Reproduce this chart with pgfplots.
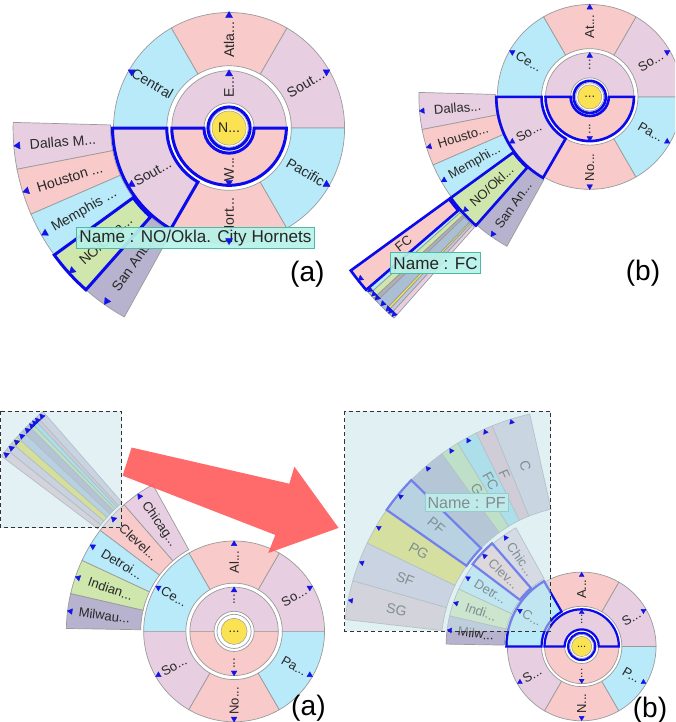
\documentclass[border=0pt]{standalone}
\usepackage{pgfplots}
\pgfplotsset{compat=1.18}
\usepackage{fontspec}
\setmainfont{Liberation Sans}
\usetikzlibrary{calc}

\definecolor{cPink}{RGB}{248,202,202}
\definecolor{cMauve}{RGB}{231,207,225}
\definecolor{cCyan}{RGB}{184,234,250}
\definecolor{cGreen}{RGB}{207,231,172}
\definecolor{cGrayP}{RGB}{183,179,207}
\definecolor{cYellow}{RGB}{250,226,82}
\definecolor{cEdge}{RGB}{155,155,155}
\definecolor{cHL}{RGB}{10,10,235}
\definecolor{cTri}{RGB}{20,20,230}
\definecolor{cTipF}{RGB}{182,242,232}
\definecolor{cTipD}{RGB}{80,185,165}
\definecolor{cTxt}{RGB}{40,40,40}
\definecolor{cArrow}{RGB}{255,90,90}
\definecolor{cBox}{RGB}{200,228,234}
\definecolor{pC}{RGB}{205,195,218}
\definecolor{pF}{RGB}{222,178,196}
\definecolor{pFC}{RGB}{140,218,236}
\definecolor{pG}{RGB}{180,220,160}
\definecolor{pSt}{RGB}{160,164,192}
\definecolor{pPF}{RGB}{168,190,218}
\definecolor{pPG}{RGB}{228,218,72}
\definecolor{pSF}{RGB}{205,192,215}
\definecolor{pSG}{RGB}{226,192,202}
\definecolor{qGray}{RGB}{175,175,182}
\definecolor{qSteel}{RGB}{170,190,212}
\definecolor{qBG}{RGB}{188,202,222}

\tikzset{wd/.style={draw=cEdge,line width=0.7pt}}

% wedge: style, center, r1, r2, a1, a2
\newcommand{\wdg}[6]{%
  \path[#1] ($(#2)+(#5:#3pt)$) arc[start angle=#5,end angle=#6,radius=#3pt]
    -- ($(#2)+(#6:#4pt)$) arc[start angle=#6,end angle=#5,radius=#4pt] -- cycle;}
% label: center, r, angle, text, size
\newcommand{\wlab}[5]{%
  \node[text=cTxt,font=\fontsize{#5}{#5}\selectfont,inner sep=0pt,
    rotate={ifthenelse(and(#3>90.1,#3<270.1),#3-180,#3)}]
    at ($(#1)+(#3:#2pt)$) {#4};}

\begin{document}
\begin{tikzpicture}
\begin{axis}[hide axis, scale only axis, width=672pt, height=722pt,
  xmin=0, xmax=672, ymin=0, ymax=722, y dir=reverse, clip=true]

\coordinate (P1) at (axis cs:228,131);
\coordinate (P2) at (axis cs:587,100);
\coordinate (P3) at (axis cs:233,632);
\coordinate (P4) at (axis cs:579,647);

%================ Panel 1 =================
\wdg{fill=cMauve,wd}{P1}{25}{57}{0}{180}
\wdg{fill=cPink,wd}{P1}{25}{57}{180}{360}
\wdg{fill=cMauve,wd}{P1}{62}{115}{0}{60}
\wdg{fill=cPink,wd}{P1}{62}{115}{60}{120}
\wdg{fill=cCyan,wd}{P1}{62}{115}{120}{180}
\wdg{fill=cMauve,wd}{P1}{62}{115}{180}{240}
\wdg{fill=cPink,wd}{P1}{62}{115}{240}{300}
\wdg{fill=cCyan,wd}{P1}{62}{115}{300}{360}
\wdg{fill=cMauve,wd}{P1}{118}{215}{178.5}{191}
\wdg{fill=cPink,wd}{P1}{118}{215}{191}{203.5}
\wdg{fill=cCyan,wd}{P1}{118}{215}{203.5}{216}
\wdg{fill=cGreen,wd}{P1}{118}{215}{216}{228.5}
\wdg{fill=cGrayP,wd}{P1}{118}{215}{228.5}{241}
\path[fill=white,draw=cEdge,line width=0.7pt] (P1) circle[radius=19pt];
\path[fill=cYellow,draw=cEdge,line width=0.5pt] (P1) circle[radius=17pt];
\wlab{P1}{0}{0}{N...}{14}
\wlab{P1}{41}{90}{E...}{14}
\wlab{P1}{41}{270}{W...}{14}
\wlab{P1}{88}{30}{Sout...}{14}
\wlab{P1}{88}{90}{Atla...}{14}
\wlab{P1}{88}{150}{Central}{14}
\wlab{P1}{88}{210}{Sout...}{14}
\wlab{P1}{88}{270}{Nort...}{14}
\wlab{P1}{88}{330}{Pacific}{14}
\wlab{P1}{166}{184.75}{Dallas M...}{14}
\wlab{P1}{166}{197.25}{Houston ...}{14}
\wlab{P1}{166}{209.75}{Memphis ...}{14}
\wlab{P1}{166}{222.25}{NO/Okla...}{14}
\wlab{P1}{166}{234.75}{San Ant...}{14}
\addplot[scatter, only marks, mark=triangle*, mark size=4pt,
  scatter/use mapped color={draw=cTri,fill=cTri}, point meta=\thisrow{a},
  visualization depends on={\thisrow{a} \as \ang},
  scatter/@pre marker code/.append style={/tikz/rotate=\ang-90}]
  table[x expr={228+\thisrow{r}*cos(\thisrow{a})}, y expr={131-\thisrow{r}*sin(\thisrow{a})}] {
r a
54 90
54 270
112 30
112 90
112 150
112 210
112 270
112 330
211 184.75
211 197.25
211 209.75
211 222.25
211 234.75
};
\draw[cHL,line width=3pt] (P1) circle[radius=21pt];
\wdg{draw=cHL,line width=3pt}{P1}{25}{57}{180}{360}
\wdg{draw=cHL,line width=3pt}{P1}{62}{116}{180}{240}
\wdg{draw=cHL,line width=3pt}{P1}{118}{215}{216}{228.5}
\path[fill=cTipF,draw=cTipD,line width=0.8pt,fill opacity=0.92] (axis cs:76,230) rectangle (axis cs:313,251);
\node[font=\fontsize{17}{17}\selectfont,text=black!85,inner sep=0pt] at (axis cs:194.5,241) {Name : NO/Okla. City Hornets};
\node[font=\fontsize{28}{28}\selectfont,inner sep=0pt] at (axis cs:306,276) {(a)};

%================ Panel 2 =================
\wdg{fill=cMauve,wd}{P2}{19}{44}{0}{180}
\wdg{fill=cPink,wd}{P2}{19}{44}{180}{360}
\wdg{fill=cMauve,wd}{P2}{48}{92}{0}{60}
\wdg{fill=cPink,wd}{P2}{48}{92}{60}{120}
\wdg{fill=cCyan,wd}{P2}{48}{92}{120}{180}
\wdg{fill=cMauve,wd}{P2}{48}{92}{180}{240}
\wdg{fill=cPink,wd}{P2}{48}{92}{240}{300}
\wdg{fill=cCyan,wd}{P2}{48}{92}{300}{360}
\wdg{fill=cMauve,wd}{P2}{94}{170}{178.5}{191}
\wdg{fill=cPink,wd}{P2}{94}{170}{191}{203.5}
\wdg{fill=cCyan,wd}{P2}{94}{170}{203.5}{216}
\wdg{fill=cGreen,wd}{P2}{94}{170}{216}{228.5}
\wdg{fill=cGrayP,wd}{P2}{94}{170}{228.5}{241}
\wdg{fill=cPink,wd}{P2}{173}{294}{216}{220.8}
\wdg{fill=cCyan,wd}{P2}{173}{294}{220.8}{221.8}
\wdg{fill=cGreen,wd}{P2}{173}{294}{221.8}{223}
\wdg{fill=qGray,wd}{P2}{173}{294}{223}{223.8}
\wdg{fill=qSteel,wd}{P2}{173}{294}{223.8}{226.2}
\wdg{fill=cYellow,wd}{P2}{173}{294}{226.2}{226.7}
\wdg{fill=qBG,wd}{P2}{173}{294}{226.7}{227.5}
\wdg{fill=cMauve,wd}{P2}{173}{294}{227.5}{228.5}
\path[fill=white,draw=cEdge,line width=0.7pt] (P2) circle[radius=14pt];
\path[fill=cYellow,draw=cEdge,line width=0.5pt] (P2) circle[radius=12pt];
\wlab{P2}{0}{0}{...}{13}
\wlab{P2}{32}{90}{...}{13}
\wlab{P2}{32}{270}{...}{13}
\wlab{P2}{70}{30}{So...}{13}
\wlab{P2}{70}{90}{At...}{13}
\wlab{P2}{70}{150}{Ce...}{13}
\wlab{P2}{70}{210}{So...}{13}
\wlab{P2}{70}{270}{No...}{13}
\wlab{P2}{70}{330}{Pa...}{13}
\wlab{P2}{132}{184.75}{Dallas...}{13}
\wlab{P2}{132}{197.25}{Housto...}{13}
\wlab{P2}{132}{209.75}{Memphi...}{13}
\wlab{P2}{132}{222.25}{NO/Okl...}{13}
\wlab{P2}{132}{234.75}{San An...}{13}
\wlab{P2}{236}{218.2}{FC}{13}
\addplot[scatter, only marks, mark=triangle*, mark size=3.2pt,
  scatter/use mapped color={draw=cTri,fill=cTri}, point meta=\thisrow{a},
  visualization depends on={\thisrow{a} \as \ang},
  scatter/@pre marker code/.append style={/tikz/rotate=\ang-90}]
  table[x expr={587+\thisrow{r}*cos(\thisrow{a})}, y expr={100-\thisrow{r}*sin(\thisrow{a})}] {
r a
41 90
41 270
89 30
89 90
89 150
89 210
89 270
89 330
167 184.75
167 197.25
167 209.75
167 222.25
167 234.75
291 218.4
291 221.3
291 222.4
291 223.4
291 225
291 226.45
291 227.1
291 228
};
\draw[cHL,line width=2.6pt] (P2) circle[radius=16pt];
\wdg{draw=cHL,line width=2.6pt}{P2}{19}{44}{180}{360}
\wdg{draw=cHL,line width=2.6pt}{P2}{48}{93}{180}{240}
\wdg{draw=cHL,line width=2.6pt}{P2}{94}{171}{216}{228.5}
\wdg{draw=cHL,line width=2.6pt}{P2}{173}{294}{216}{220.8}
\path[fill=cTipF,draw=cTipD,line width=0.8pt,fill opacity=0.92] (axis cs:389,255) rectangle (axis cs:478,276);
\node[font=\fontsize{17}{17}\selectfont,text=black!85,inner sep=0pt] at (axis cs:433.5,266) {Name : FC};
\node[font=\fontsize{28}{28}\selectfont,inner sep=0pt] at (axis cs:640,275) {(b)};

%================ Panel 3 =================
\wdg{fill=cMauve,wd}{P3}{20}{44}{0}{180}
\wdg{fill=cPink,wd}{P3}{20}{44}{180}{360}
\wdg{fill=cMauve,wd}{P3}{48}{90}{0}{60}
\wdg{fill=cPink,wd}{P3}{48}{90}{60}{120}
\wdg{fill=cCyan,wd}{P3}{48}{90}{120}{180}
\wdg{fill=cMauve,wd}{P3}{48}{90}{180}{240}
\wdg{fill=cPink,wd}{P3}{48}{90}{240}{300}
\wdg{fill=cCyan,wd}{P3}{48}{90}{300}{360}
\wdg{fill=cMauve,wd}{P3}{93}{167}{119}{131}
\wdg{fill=cPink,wd}{P3}{93}{167}{131}{143}
\wdg{fill=cCyan,wd}{P3}{93}{167}{143}{155}
\wdg{fill=cGreen,wd}{P3}{93}{167}{155}{167}
\wdg{fill=cGrayP,wd}{P3}{93}{167}{167}{179}
\wdg{fill=pC,wd}{P3}{170}{290}{131}{132.61}
\wdg{fill=pF,wd}{P3}{170}{290}{132.61}{133.32}
\wdg{fill=pFC,wd}{P3}{170}{290}{133.32}{134.18}
\wdg{fill=pG,wd}{P3}{170}{290}{134.18}{134.96}
\wdg{fill=pSt,wd}{P3}{170}{290}{134.96}{136.6}
\wdg{fill=pPF,wd}{P3}{170}{290}{136.6}{138.17}
\wdg{fill=pPG,wd}{P3}{170}{290}{138.17}{139.74}
\wdg{fill=pSF,wd}{P3}{170}{290}{139.74}{141.38}
\wdg{fill=pSG,wd}{P3}{170}{290}{141.38}{143}
\path[fill=white,draw=cEdge,line width=0.7pt] (P3) circle[radius=17pt];
\path[fill=cYellow,draw=cEdge,line width=0.5pt] (P3) circle[radius=13pt];
\wlab{P3}{0}{0}{...}{13}
\wlab{P3}{32}{90}{...}{13}
\wlab{P3}{32}{270}{...}{13}
\wlab{P3}{69}{30}{So...}{13}
\wlab{P3}{69}{90}{Al...}{13}
\wlab{P3}{69}{150}{Ce...}{13}
\wlab{P3}{69}{210}{So...}{13}
\wlab{P3}{69}{270}{No...}{13}
\wlab{P3}{69}{330}{Pa...}{13}
\wlab{P3}{130}{125}{Chicag...}{13}
\wlab{P3}{130}{137}{Clevel...}{13}
\wlab{P3}{130}{149}{Detroi...}{13}
\wlab{P3}{130}{161}{Indian...}{13}
\wlab{P3}{130}{173}{Milwau...}{13}
\addplot[scatter, only marks, mark=triangle*, mark size=3.2pt,
  scatter/use mapped color={draw=cTri,fill=cTri}, point meta=\thisrow{a},
  visualization depends on={\thisrow{a} \as \ang},
  scatter/@pre marker code/.append style={/tikz/rotate=\ang-90}]
  table[x expr={233+\thisrow{r}*cos(\thisrow{a})}, y expr={632-\thisrow{r}*sin(\thisrow{a})}] {
r a
41 90
41 270
87 30
87 90
87 150
87 210
87 270
87 330
164 125
164 137
164 149
164 161
164 173
287 131.8
287 132.97
287 133.75
287 134.57
287 135.78
287 137.39
287 138.96
287 140.56
287 142.19
};
\path[fill=cBox,fill opacity=0.5,draw=black!80,line width=1pt,dash pattern=on 4pt off 3pt] (axis cs:0.5,413) rectangle (axis cs:121,529);
\node[font=\fontsize{28}{28}\selectfont,inner sep=0pt] at (axis cs:307,708) {(a)};

%================ Arrow =================
\path[fill=cArrow,fill opacity=0.9] (axis cs:131,449) -- (axis cs:288,485) -- (axis cs:293,468) -- (axis cs:337,529) -- (axis cs:267,554) -- (axis cs:274,536) -- (axis cs:122,477) -- cycle;

%================ Panel 4 =================
\wdg{fill=cMauve,wd}{P4}{17}{37}{0}{180}
\wdg{fill=cPink,wd}{P4}{17}{37}{180}{360}
\wdg{fill=cMauve,wd}{P4}{40}{74}{0}{60}
\wdg{fill=cPink,wd}{P4}{40}{74}{60}{120}
\wdg{fill=cCyan,wd}{P4}{40}{74}{120}{180}
\wdg{fill=cMauve,wd}{P4}{40}{74}{180}{240}
\wdg{fill=cPink,wd}{P4}{40}{74}{240}{300}
\wdg{fill=cCyan,wd}{P4}{40}{74}{300}{360}
\wdg{fill=cMauve,wd}{P4}{77}{135}{119}{131}
\wdg{fill=cPink,wd}{P4}{77}{135}{131}{143}
\wdg{fill=cCyan,wd}{P4}{77}{135}{143}{155}
\wdg{fill=cGreen,wd}{P4}{77}{135}{155}{167}
\wdg{fill=cGrayP,wd}{P4}{77}{135}{167}{179}
\wdg{fill=pC,wd}{P4}{140}{237}{102.6}{112.1}
\wdg{fill=pF,wd}{P4}{140}{237}{112.1}{116.3}
\wdg{fill=pFC,wd}{P4}{140}{237}{116.3}{121.4}
\wdg{fill=pG,wd}{P4}{140}{237}{121.4}{126}
\wdg{fill=pSt,wd}{P4}{140}{237}{126}{135.7}
\wdg{fill=pPF,wd}{P4}{140}{237}{135.7}{145}
\wdg{fill=pPG,wd}{P4}{140}{237}{145}{154.3}
\wdg{fill=pSF,wd}{P4}{140}{237}{154.3}{164}
\wdg{fill=pSG,wd}{P4}{140}{237}{164}{173.5}
\path[fill=white,draw=cEdge,line width=0.7pt] (P4) circle[radius=12pt];
\path[fill=cYellow,draw=cEdge,line width=0.5pt] (P4) circle[radius=10pt];
\wlab{P4}{0}{0}{...}{11}
\wlab{P4}{27}{90}{...}{12}
\wlab{P4}{27}{270}{...}{12}
\wlab{P4}{57}{30}{S...}{13}
\wlab{P4}{57}{90}{A...}{13}
\wlab{P4}{57}{150}{C...}{13}
\wlab{P4}{57}{210}{S...}{13}
\wlab{P4}{57}{270}{N...}{13}
\wlab{P4}{57}{330}{P...}{13}
\wlab{P4}{106}{125}{Chic...}{13}
\wlab{P4}{106}{137}{Clev...}{13}
\wlab{P4}{106}{149}{Detr...}{13}
\wlab{P4}{106}{161}{Indi...}{13}
\wlab{P4}{106}{173}{Milw...}{13}
\wlab{P4}{188}{107.35}{C}{14}
\wlab{P4}{188}{114.2}{F}{14}
\wlab{P4}{188}{118.85}{FC}{14}
\wlab{P4}{188}{123.7}{G}{14}
\wlab{P4}{188}{140.35}{PF}{14}
\wlab{P4}{188}{149.65}{PG}{14}
\wlab{P4}{188}{159.15}{SF}{14}
\wlab{P4}{188}{168.75}{SG}{14}
\addplot[scatter, only marks, mark=triangle*, mark size=2.8pt,
  scatter/use mapped color={draw=cTri,fill=cTri}, point meta=\thisrow{a},
  visualization depends on={\thisrow{a} \as \ang},
  scatter/@pre marker code/.append style={/tikz/rotate=\ang-90}]
  table[x expr={579+\thisrow{r}*cos(\thisrow{a})}, y expr={647-\thisrow{r}*sin(\thisrow{a})}] {
r a
34 90
34 270
71 30
71 90
71 150
71 210
71 270
71 330
132 125
132 137
132 149
132 161
132 173
234 107.35
234 114.2
234 118.85
234 123.7
234 130.85
234 140.35
234 149.65
234 159.15
234 168.75
};
\draw[cHL,line width=2.2pt] (P4) circle[radius=13.5pt];
\wdg{draw=cHL,line width=2.2pt}{P4}{17}{37}{0}{180}
\wdg{draw=cHL,line width=2.2pt}{P4}{40}{75}{120}{180}
\wdg{draw=cHL,line width=2.2pt}{P4}{77}{136}{131}{143}
\wdg{draw=cHL,line width=2.2pt}{P4}{140}{237}{135.7}{145}
\path[fill=cTipF,draw=cTipD,line width=0.8pt] (axis cs:423,495) rectangle (axis cs:506,513);
\node[font=\fontsize{16}{16}\selectfont,text=black!85,inner sep=0pt] at (axis cs:464.5,504) {Name : PF};
\path[fill=cBox,fill opacity=0.55,draw=black!80,line width=1pt,dash pattern=on 4pt off 3pt] (axis cs:343,413) rectangle (axis cs:548,632);
\node[font=\fontsize{28}{28}\selectfont,inner sep=0pt] at (axis cs:647,710) {(b)};

\end{axis}
\end{tikzpicture}
\end{document}
